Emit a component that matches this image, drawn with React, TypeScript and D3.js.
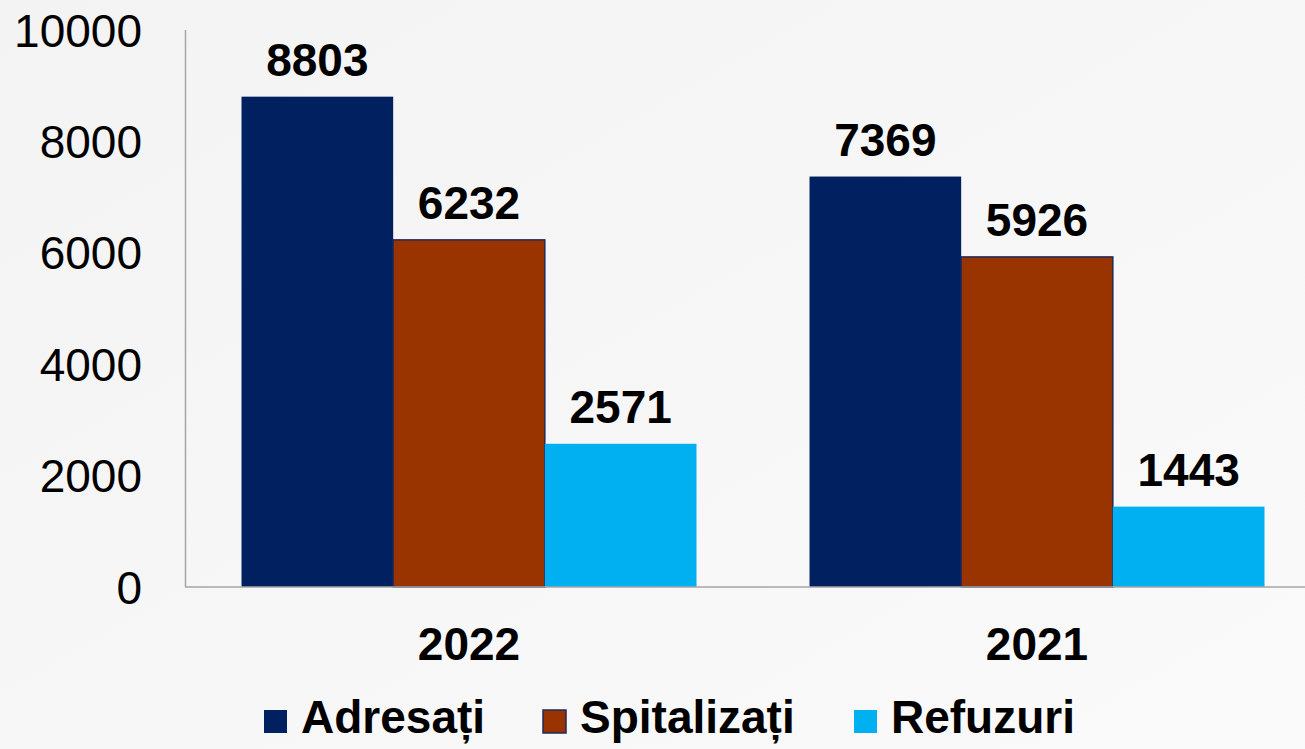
import React from "react";
import * as d3 from "d3";

const categories = ["2022", "2021"];
const seriesNames = ["Adresați", "Spitalizați", "Refuzuri"];
const adresati = [8803, 7369];
const spitalizati = [6232, 5926];
const refuzuri = [2571, 1443];
const yTicks = [0, 2000, 4000, 6000, 8000, 10000];
const colors = ["#002060", "#993300", "#00B0F0"];

const W = 1305;
const H = 749;
const FONT = "'Liberation Sans', Arial, Helvetica, sans-serif";

export default function App() {
  const seriesValues = [adresati, spitalizati, refuzuri];
  const y = d3.scaleLinear().domain([0, 10000]).range([587, 30]);
  const x0 = d3.scaleBand().domain(categories).range([185, 1321]).padding(0);
  const bw = x0.bandwidth();
  const x1 = d3
    .scaleBand()
    .domain(seriesNames)
    .range([bw * 0.0995, bw * 0.9005])
    .padding(0);

  const legendX = [264, 543, 854];

  return (
    <svg
      width={W}
      height={H}
      style={{ position: "absolute", left: 0, top: 0, fontFamily: FONT }}
    >
      <defs>
        <linearGradient id="bg" x1="0" y1="0" x2="1" y2="1">
          <stop offset="0" stopColor="#f3f3f3" />
          <stop offset="1" stopColor="#fafafa" />
        </linearGradient>
      </defs>
      <rect x={0} y={0} width={W} height={H} fill="url(#bg)" />

      {/* y tick labels */}
      {yTicks.map((t) => (
        <text
          key={t}
          x={142}
          y={y(t)}
          dy="0.36em"
          textAnchor="end"
          fontSize={46}
          fill="#000"
        >
          {t}
        </text>
      ))}

      {/* bars */}
      {categories.map((c, ci) => (
        <g key={c} transform={`translate(${x0(c)},0)`}>
          {seriesNames.map((s, si) => {
            const v = seriesValues[si][ci];
            const bx = x1(s) as number;
            return (
              <g key={s}>
                <rect
                  x={bx}
                  y={y(v)}
                  width={x1.bandwidth()}
                  height={y(0) - y(v)}
                  fill={colors[si]}
                  stroke={si === 1 ? "#1f2a5c" : "none"}
                  strokeWidth={si === 1 ? 1.5 : 0}
                />
                <text
                  x={bx + x1.bandwidth() / 2}
                  y={y(v) - 21}
                  textAnchor="middle"
                  fontSize={46}
                  fontWeight="bold"
                  fill="#000"
                >
                  {v}
                </text>
              </g>
            );
          })}
          <text
            x={bw / 2}
            y={660}
            textAnchor="middle"
            fontSize={46}
            fontWeight="bold"
            fill="#000"
          >
            {c}
          </text>
        </g>
      ))}

      {/* axes */}
      <line x1={185.5} x2={185.5} y1={30} y2={587} stroke="#a6a6a6" strokeWidth={1.5} />
      <line x1={185} x2={W} y1={587} y2={587} stroke="#a6a6a6" strokeWidth={1.5} />

      {/* legend */}
      {seriesNames.map((s, i) => (
        <g key={s}>
          <rect
            x={legendX[i]}
            y={710}
            width={23}
            height={23}
            fill={colors[i]}
            stroke={i === 1 ? "#1f2a5c" : "none"}
            strokeWidth={i === 1 ? 1.5 : 0}
          />
          <text
            x={legendX[i] + 37}
            y={733}
            fontSize={46}
            fontWeight="bold"
            fill="#000"
          >
            {s}
          </text>
        </g>
      ))}
    </svg>
  );
}
